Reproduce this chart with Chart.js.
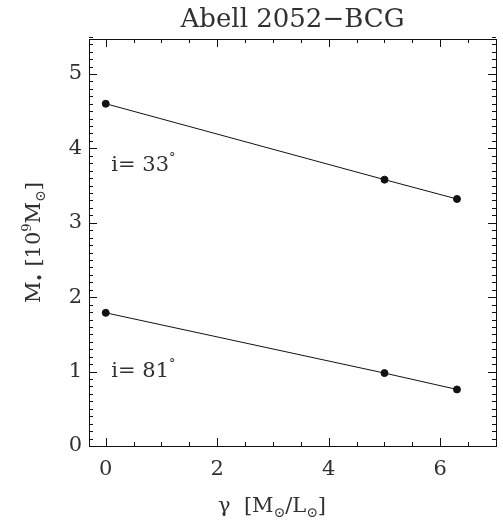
<!DOCTYPE html>
<html>
<head>
<meta charset="utf-8">
<script src="https://cdn.jsdelivr.net/npm/chart.js@4/dist/chart.umd.min.js"></script>
<style>
  html, body { margin: 0; padding: 0; background: #fff; }
  #wrap { width: 503px; height: 521px; }
</style>
</head>
<body>
<div id="wrap"><canvas id="massChart"></canvas></div>
<script>
// Abell 2052-BCG : M. contra gamma

const gammaVals = [0, 5, 6.3];
const massI33 = [4.60, 3.58, 3.32];
const massI81 = [1.79, 0.98, 0.76];
const xTickVals = [0, 2, 4, 6];
const yTickVals = [0, 1, 2, 3, 4, 5];
const seriesLabels = ['i= 33', 'i= 81'];

const FONT = "'DejaVu Serif', serif";
const INK = '#111';
const TEXT = '#303030';

const toPoints = (ys) => gammaVals.map((g, i) => ({ x: g, y: ys[i] }));

// texto com sub/sobrescritos: partes [texto, tipo]
const drawRich = (ctx, parts, x, y, size) => {
    let cx = x;
    parts.forEach(([txt, kind]) => {
        let s = size, dy = 0;
        if (kind === 'sub') { s = size * 0.66; dy = size * 0.22; }
        if (kind === 'sup') { s = size * 0.62; dy = -size * 0.42; }
        ctx.font = s + 'px ' + FONT;
        ctx.fillText(txt, cx, y + dy);
        cx += ctx.measureText(txt).width;
    });
    return cx - x;
};
const richWidth = (ctx, parts, size) => {
    let w = 0;
    parts.forEach(([txt, kind]) => {
        const s = kind === 'sub' ? size * 0.66 : (kind ? size * 0.62 : size);
        ctx.font = s + 'px ' + FONT;
        w += ctx.measureText(txt).width;
    });
    return w;
};

const framePlugin = {
    id: 'frame',
    afterDraw(chart) {
        const { ctx, chartArea: a, scales: { x, y } } = chart;
        ctx.save();
        ctx.strokeStyle = INK;
        ctx.lineWidth = 1;
        ctx.strokeRect(a.left + 0.5, a.top + 0.5, a.right - a.left, a.bottom - a.top);

        // ticks para dentro nos quatro lados
        ctx.beginPath();
        for (let v = 0; v <= 7.001; v += 0.5) {
            const px = Math.round(x.getPixelForValue(v)) + 0.5;
            const len = Math.abs(v % 2) < 0.01 ? 8 : 4;
            ctx.moveTo(px, a.bottom); ctx.lineTo(px, a.bottom - len);
            ctx.moveTo(px, a.top); ctx.lineTo(px, a.top + len);
        }
        for (let k = 0; k <= 55; k++) {
            const v = k / 10;
            const py = Math.round(y.getPixelForValue(v)) + 0.5;
            const len = k % 10 === 0 ? 8 : 4;
            ctx.moveTo(a.left, py); ctx.lineTo(a.left + len, py);
            ctx.moveTo(a.right, py); ctx.lineTo(a.right - len, py);
        }
        ctx.stroke();

        // titulo
        ctx.fillStyle = TEXT;
        ctx.textBaseline = 'alphabetic';
        ctx.textAlign = 'center';
        ctx.font = '26px ' + FONT;
        ctx.fillText('Abell 2052\u2212BCG', (a.left + a.right) / 2, 27);

        // rotulos das series
        ctx.textAlign = 'left';
        const lab = (txt, yv) => {
            const px = x.getPixelForValue(0.1);
            const py = y.getPixelForValue(yv);
            drawRich(ctx, [[txt, null], ['\u00b0', 'sup']], px, py, 21);
        };
        lab(seriesLabels[0], 3.70);
        lab(seriesLabels[1], 0.93);

        // eixo x
        const xParts = [['\u03b3  [M', null], ['\u2299', 'sub'], ['/L', null], ['\u2299', 'sub'], [']', null]];
        drawRich(ctx, xParts, 218, 512, 21);

        // eixo y (rodado)
        const yParts = [['M', null], ['\u2022', 'sub'], [' [10', null], ['9', 'sup'], ['M', null], ['\u2299', 'sub'], [']', null]];
        ctx.translate(40, (a.top + a.bottom) / 2);
        ctx.rotate(-Math.PI / 2);
        const w = richWidth(ctx, yParts, 21);
        drawRich(ctx, yParts, -w / 2, 0, 21);
        ctx.restore();
    }
};

const pointStyle = {
    borderColor: INK, backgroundColor: INK, borderWidth: 1,
    pointRadius: 3.5, pointBackgroundColor: INK, pointBorderColor: INK,
    showLine: true, tension: 0
};

new Chart(document.getElementById('massChart').getContext('2d'), {
    type: 'scatter',
    data: {
        datasets: [
            { label: seriesLabels[0], data: toPoints(massI33), ...pointStyle },
            { label: seriesLabels[1], data: toPoints(massI81), ...pointStyle }
        ]
    },
    options: {
        responsive: true, maintainAspectRatio: false, animation: false,
        layout: { padding: { top: 39, right: 7, left: 0, bottom: 0 } },
        scales: {
            x: {
                type: 'linear', min: -0.3, max: 7,
                afterBuildTicks: (s) => { s.ticks = xTickVals.map(v => ({ value: v })); },
                afterFit: (s) => { s.height = 75; },
                grid: { display: false, drawTicks: false },
                border: { display: false },
                ticks: { color: TEXT, padding: 11, font: { family: FONT, size: 21 } }
            },
            y: {
                type: 'linear', min: 0, max: 5.47,
                afterBuildTicks: (s) => { s.ticks = yTickVals.map(v => ({ value: v })); },
                afterFit: (s) => { s.width = 89; },
                grid: { display: false, drawTicks: false },
                border: { display: false },
                ticks: { color: TEXT, padding: 7, font: { family: FONT, size: 21 } }
            }
        },
        plugins: { legend: { display: false }, tooltip: { enabled: false } }
    },
    plugins: [framePlugin]
});
</script>
</body>
</html>
